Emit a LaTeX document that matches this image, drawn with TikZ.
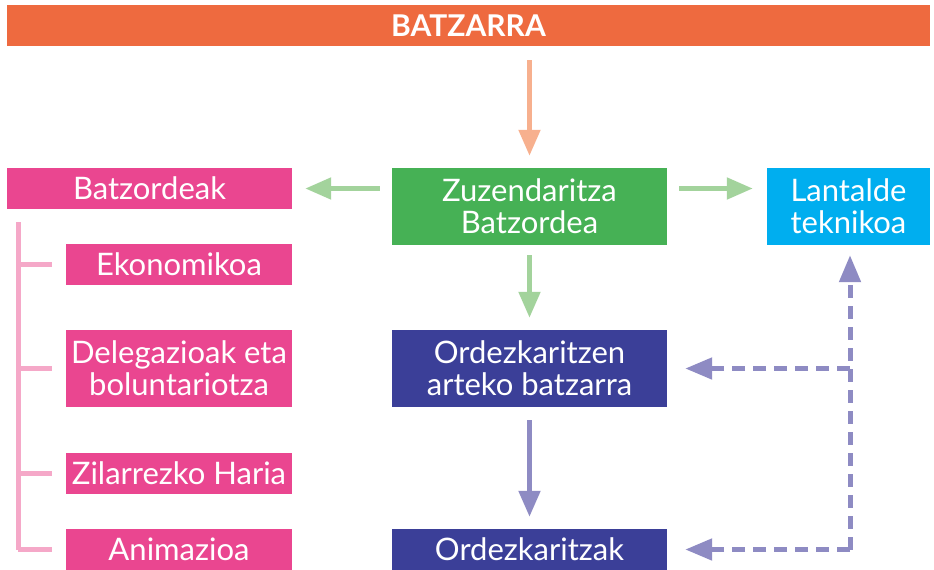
\documentclass[tikz,border=0pt]{standalone}
\usepackage{fontspec}
\setmainfont{Lato}
\usetikzlibrary{arrows.meta}
\definecolor{cOrange}{HTML}{EE6A3F}
\definecolor{cPink}{HTML}{EA4690}
\definecolor{cGreen}{HTML}{46B155}
\definecolor{cCyan}{HTML}{00AEEF}
\definecolor{cNavy}{HTML}{3B3F98}
\definecolor{aOrange}{HTML}{F7B08E}
\definecolor{aGreen}{HTML}{A3D39C}
\definecolor{aPurple}{HTML}{8E8BC3}
\definecolor{aPink}{HTML}{F5A8C8}
\begin{document}
\begin{tikzpicture}[x=1pt,y=-1pt,
  box/.style={rectangle, inner sep=0pt, text=white, align=center,
    font=\fontsize{31}{32}\selectfont},
  arr/.style={line width=5pt, -{Triangle[length=26pt,width=21pt]}},
  dsh/.style={line width=5pt, aPurple, dash pattern=on 13pt off 8pt,
    -{Triangle[length=27pt,width=21pt]}},
  tree/.style={line width=5pt, aPink}]
\useasboundingbox (0,0) rectangle (934,570);
\node[box, fill=cOrange, minimum width=923pt, minimum height=41pt,
  font=\fontsize{30}{32}\selectfont\bfseries] (batz) at (468.5,25.5) {BATZARRA};
\node[box, fill=cGreen, minimum width=275pt, minimum height=77pt] (zuz) at (529.5,206.5) {Zuzendaritza\\Batzordea};
\node[box, fill=cPink, minimum width=285pt, minimum height=41pt] (bk) at (149.5,188.5) {Batzordeak};
\node[box, fill=cCyan, minimum width=163pt, minimum height=77pt] (lant) at (848.5,206.5) {Lantalde\\teknikoa};
\node[box, fill=cPink, minimum width=226pt, minimum height=41pt] (eko) at (179,264.5) {Ekonomikoa};
\node[box, fill=cPink, minimum width=226pt, minimum height=77pt] (del) at (179,368.5) {Delegazioak eta\\boluntariotza};
\node[box, fill=cPink, minimum width=226pt, minimum height=41pt] (zil) at (179,473.5) {Zilarrezko Haria};
\node[box, fill=cPink, minimum width=226pt, minimum height=41pt] (ani) at (179,549.5) {Animazioa};
\node[box, fill=cNavy, minimum width=275pt, minimum height=77pt] (ord) at (529.5,368.5) {Ordezkaritzen\\arteko batzarra};
\node[box, fill=cNavy, minimum width=275pt, minimum height=41pt] (ordk) at (529.5,549.5) {Ordezkaritzak};
% arrows
\draw[arr, aOrange, shorten <=14pt, shorten >=12pt] (batz.south -| zuz.north) -- (zuz.north);
\draw[arr, aGreen, shorten <=12pt, shorten >=13pt] (zuz.west |- bk.east) -- (bk.east);
\draw[arr, aGreen, shorten <=12pt, shorten >=14pt] (zuz.east |- bk.east) -- (lant.west |- bk.east);
\draw[arr, aGreen, shorten <=10pt, shorten >=12pt] (zuz.south) -- (ord.north);
\draw[arr, aPurple, shorten <=13pt, shorten >=12pt] (ord.south) -- (ordk.north);
% dashed
\coordinate (corner) at (850,549.5);
\draw[dsh, shorten >=10pt] (corner) -- (corner |- lant.south);
\draw[dsh, shorten >=18pt] (corner |- ord.east) -- (ord.east);
\draw[dsh, shorten >=18pt] (corner) -- (ordk.east);
% tree
\coordinate (ttop) at (18,222);
\draw[tree] (ttop) -- (ttop |- ani.west);
\foreach \n in {eko,del,zil,ani}{
  \draw[tree] (ttop |- \n.west) -- ([xshift=-14pt]\n.west);
}
\end{tikzpicture}
\end{document}
